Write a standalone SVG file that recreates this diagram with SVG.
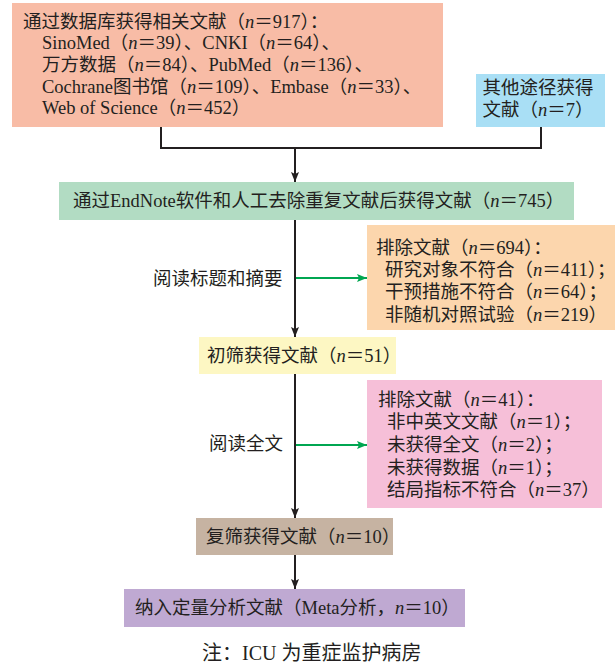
<svg xmlns="http://www.w3.org/2000/svg" width="615" height="665" viewBox="0 0 615 665">
<style>
text{font-family:"Liberation Serif","Noto Sans CJK SC",serif;font-size:18.5px;fill:#231f20}
.i{font-style:italic}
.blk{stroke:#231f20;stroke-width:2;fill:none}
.grn{stroke:#00a651;stroke-width:2;fill:none}
</style>
<defs>
<marker id="ab" markerUnits="userSpaceOnUse" markerWidth="10" markerHeight="8" refX="10" refY="4" orient="auto"><path d="M0,0 L10,4 L0,8 L2,4 Z" fill="#231f20"/></marker>
<marker id="ag" markerUnits="userSpaceOnUse" markerWidth="10" markerHeight="8" refX="10" refY="4" orient="auto"><path d="M0,0 L10,4 L0,8 L2,4 Z" fill="#00a651"/></marker>
</defs>
<g id="connectors">
<path class="blk" d="M161,127 V148 H541 V127"/>
<path class="blk" d="M295,148 V182" marker-end="url(#ab)"/>
<path class="blk" d="M295,220 V337" marker-end="url(#ab)"/>
<path class="blk" d="M295,374 V518" marker-end="url(#ab)"/>
<path class="blk" d="M295,555 V589" marker-end="url(#ab)"/>
<path class="grn" d="M296,278 H367" marker-end="url(#ag)"/>
<path class="grn" d="M296,445 H367" marker-end="url(#ag)"/>
</g>
<g id="db">
<rect x="12" y="3" width="431" height="124" fill="#f8bca6"/>
<text x="23" y="28">通过数据库获得相关文献（<tspan class="i">n</tspan>＝917）：</text>
<text x="42" y="49">SinoMed（<tspan class="i">n</tspan>＝39）、CNKI（<tspan class="i">n</tspan>＝64）、</text>
<text x="42" y="71">万方数据（<tspan class="i">n</tspan>＝84）、PubMed（<tspan class="i">n</tspan>＝136）、</text>
<text x="42" y="93">Cochrane图书馆（<tspan class="i">n</tspan>＝109）、Embase（<tspan class="i">n</tspan>＝33）、</text>
<text x="42" y="114">Web of Science（<tspan class="i">n</tspan>＝452）</text>
</g>
<g id="other">
<rect x="476" y="74" width="129" height="53" fill="#a9dff5"/>
<text x="538" y="94" text-anchor="middle">其他途径获得</text>
<text x="538" y="116" text-anchor="middle">文献（<tspan class="i">n</tspan>＝7）</text>
</g>
<g id="dedup">
<rect x="59" y="182" width="515" height="38" fill="#b2dcc3"/>
<text x="73" y="207">通过EndNote软件和人工去除重复文献后获得文献（<tspan class="i">n</tspan>＝745）</text>
</g>
<g id="label1"><text x="153" y="285">阅读标题和摘要</text></g>
<g id="excl1">
<rect x="367" y="225" width="248" height="105" fill="#fcd6ad"/>
<text x="376" y="254">排除文献（<tspan class="i">n</tspan>＝694）：</text>
<text x="385" y="276">研究对象不符合（<tspan class="i">n</tspan>＝411）；</text>
<text x="385" y="298">干预措施不符合（<tspan class="i">n</tspan>＝64）；</text>
<text x="385" y="321">非随机对照试验（<tspan class="i">n</tspan>＝219）</text>
</g>
<g id="screen1">
<rect x="199" y="337" width="197" height="37" fill="#fdf7c3"/>
<text x="207" y="362">初筛获得文献（<tspan class="i">n</tspan>＝51）</text>
</g>
<g id="label2"><text x="209" y="450">阅读全文</text></g>
<g id="excl2">
<rect x="367" y="380" width="235" height="128" fill="#f6bfd8"/>
<text x="378" y="406">排除文献（<tspan class="i">n</tspan>＝41）：</text>
<text x="387" y="428">非中英文文献（<tspan class="i">n</tspan>＝1）；</text>
<text x="387" y="451">未获得全文（<tspan class="i">n</tspan>＝2）；</text>
<text x="387" y="474">未获得数据（<tspan class="i">n</tspan>＝1）；</text>
<text x="387" y="496">结局指标不符合（<tspan class="i">n</tspan>＝37）</text>
</g>
<g id="screen2">
<rect x="196" y="518" width="197" height="37" fill="#c6b3a2"/>
<text x="206" y="543">复筛获得文献（<tspan class="i">n</tspan>＝10）</text>
</g>
<g id="final">
<rect x="124" y="589" width="341" height="38" fill="#bfa9d2"/>
<text x="135" y="614">纳入定量分析文献（Meta分析，<tspan class="i">n</tspan>＝10）</text>
</g>
<g id="note"><text x="202" y="660" style="font-size:20px">注：ICU 为重症监护病房</text></g>
</svg>
